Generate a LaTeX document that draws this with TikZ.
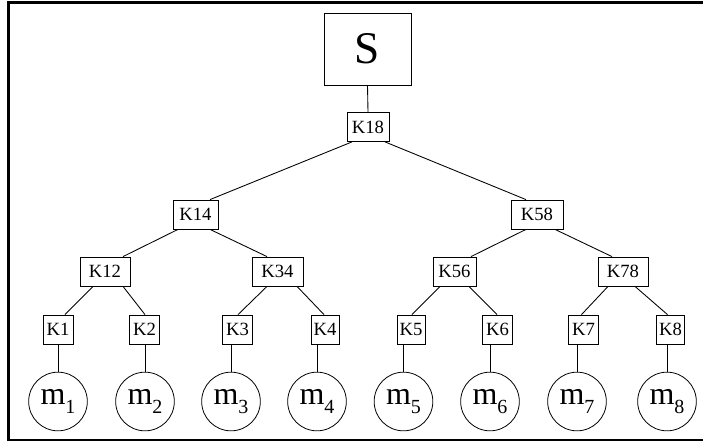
\documentclass[tikz,border=0pt]{standalone}
\usepackage{fontspec}
\setmainfont{Liberation Serif}
\usetikzlibrary{calc}
\begin{document}
\begin{tikzpicture}[x=0.75pt,y=-0.75pt,
  line width=0.6pt,
  kbox/.style={draw,rectangle,inner sep=0pt,minimum height=21.75pt,font=\fontsize{14}{14}\selectfont},
  leaf/.style={draw,circle,inner sep=0pt,minimum size=44pt},
  conn/.style={line width=0.65pt}]
\useasboundingbox (0,0) rectangle (703,445);
% frame
\draw[line width=1.6pt] (703,2.5) -- (8.5,2.5) -- (8.5,440) -- (703,440);
% root
\node[draw,rectangle,inner sep=0pt,minimum width=65.25pt,minimum height=54pt,font=\fontsize{34}{34}\selectfont] (S) at (367.5,49) {S};
\node[kbox,minimum width=31.5pt] (K18) at (368,127) {K18};
\node[kbox,minimum width=33.75pt] (K14) at (195.5,214.5) {K14};
\node[kbox,minimum width=39pt] (K58) at (537,214.5) {K58};
\node[kbox,minimum width=37.5pt] (K12) at (105,271.5) {K12};
\node[kbox,minimum width=38.25pt] (K34) at (277.5,271.5) {K34};
\node[kbox,minimum width=32.25pt] (K56) at (454.5,271.5) {K56};
\node[kbox,minimum width=37.5pt] (K78) at (623,271.5) {K78};
\node[kbox,minimum width=22.5pt] (K1) at (58,329.5) {K1};
\node[kbox,minimum width=22pt] (K2) at (144.5,329.5) {K2};
\node[kbox,minimum width=22pt] (K3) at (237.5,329.5) {K3};
\node[kbox,minimum width=21pt] (K4) at (325,329.5) {K4};
\node[kbox,minimum width=21pt] (K5) at (411,329.5) {K5};
\node[kbox,minimum width=22pt] (K6) at (497.5,329.5) {K6};
\node[kbox,minimum width=22pt] (K7) at (583.5,329.5) {K7};
\node[kbox,minimum width=21pt] (K8) at (670.5,329.5) {K8};
% leaves
\newcommand{\leaftext}[1]{\fontsize{24}{24}\selectfont m\raisebox{-6.5pt}{\fontsize{15}{15}\selectfont #1}}
\node[leaf] (m1) at (58,401.5) {\leaftext{1}};
\node[leaf] (m2) at (145,401.5) {\leaftext{2}};
\node[leaf] (m3) at (231,401.5) {\leaftext{3}};
\node[leaf] (m4) at (317,401.5) {\leaftext{4}};
\node[leaf] (m5) at (403.5,401.5) {\leaftext{5}};
\node[leaf] (m6) at (490,401.5) {\leaftext{6}};
\node[leaf] (m7) at (577,401.5) {\leaftext{7}};
\node[leaf] (m8) at (667,401.5) {\leaftext{8}};
% connectors
\draw[conn] (S.south) -- (K18.north);
\draw[conn] ($(K18.south)+(-16,0)$) -- ($(K14.north)+(14.5,0)$);
\draw[conn] ($(K18.south)+(17,0)$) -- ($(K58.north)+(-11,0)$);
\draw[conn] ($(K14.south)+(-17.5,0)$) -- ($(K12.north)+(18,0)$);
\draw[conn] ($(K14.south)+(14.5,0)$) -- ($(K34.north)+(-10.5,0)$);
\draw[conn] ($(K58.south)+(-11,0)$) -- ($(K56.north)+(16.5,0)$);
\draw[conn] ($(K58.south)+(18,0)$) -- ($(K78.north)+(-11,0)$);
\draw[conn] ($(K12.south)+(-12,0)$) -- ($(K1.north)+(7,0)$);
\draw[conn] ($(K12.south)+(18,0)$) -- ($(K2.north)+(0.5,0)$);
\draw[conn] ($(K34.south)+(-10.5,0)$) -- ($(K3.north)+(0.5,0)$);
\draw[conn] ($(K34.south)+(19.5,0)$) -- ($(K4.north)+(-1,0)$);
\draw[conn] ($(K56.south)+(-14.5,0)$) -- ($(K5.north)+(1,0)$);
\draw[conn] ($(K56.south)+(14.5,0)$) -- ($(K6.north)+(-0.5,0)$);
\draw[conn] ($(K78.south)+(-15,0)$) -- ($(K7.north)+(-2,0)$);
\draw[conn] ($(K78.south)+(12,0)$) -- ($(K8.north)+(-3,0)$);
\foreach \i in {1,...,8}{
  \draw[conn] (m\i.north |- K\i.south) -- (m\i.north);
}
\end{tikzpicture}
\end{document}
